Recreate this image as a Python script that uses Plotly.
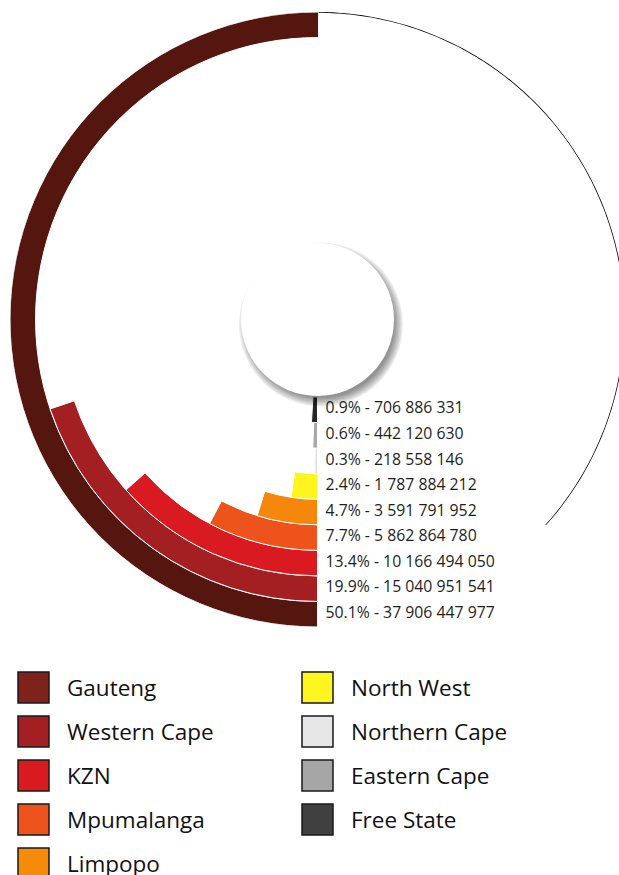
import math
import numpy as np
import plotly.graph_objects as go

# Provincial totals, outermost ring first
provinces = ["Gauteng", "Western Cape", "KZN", "Mpumalanga", "Limpopo",
             "North West", "Northern Cape", "Eastern Cape", "Free State"]
values = [37906447977, 15040951541, 10166494050, 5862864780, 3591791952,
          1787884212, 218558146, 442120630, 706886331]
arc_colors = ["#561610", "#a31f22", "#d91a21", "#ef531c", "#f5870a",
              "#fff51e", "#e0e0e0", "#a8a8a8", "#262626"]
legend_colors = ["#7f221c", "#a31f22", "#d91a21", "#ef531c", "#f68b0a",
                 "#fff61f", "#e6e6e6", "#a6a6a6", "#404040"]

# Page geometry (px)
W, H = 626, 875
CX, CY = 317.5, 319.5
R_OUT = 307.5
R_IN = 77.5
DISC_R = 76.5
OUTLINE_END_DEG = 312
FONT = "Open Sans"

total = sum(values)
shares = [v / total * 100 for v in values]
n = len(values)
rings = [n - 1 - i for i in range(n)]
ring_px = (R_OUT - R_IN) / n


def fmt_label(share, value):
    return f"{share:.1f}% - " + f"{value:,}".replace(",", " ")


fig = go.Figure()

# Radial bars: each ring starts at the bottom and sweeps clockwise
for i in range(n):
    span = shares[i] * 3.6
    fig.add_trace(go.Barpolar(
        r=[1], base=[rings[i]], theta=[span / 2], width=[span],
        marker=dict(color=arc_colors[i], line=dict(color="white", width=1)),
        name=provinces[i], showlegend=False, hoverinfo="name"))

# Thin outline continuing round from the end of the outer ring
outline_theta = np.linspace(shares[0] * 3.6, OUTLINE_END_DEG, 200)
fig.add_trace(go.Scatterpolar(
    r=[n] * len(outline_theta), theta=outline_theta, mode="lines",
    line=dict(color="#000000", width=1.6), cliponaxis=False,
    showlegend=False, hoverinfo="skip"))

# Value labels beside the start of every ring
lab_r, lab_theta, lab_text = [], [], []
for i in range(n):
    rpx = R_IN + (rings[i] + 0.5) * ring_px
    lab_r.append(rings[i] + 0.5)
    lab_theta.append(-math.degrees(math.atan(8.0 / rpx)))
    lab_text.append(fmt_label(shares[i], values[i]))
fig.add_trace(go.Scatterpolar(
    r=lab_r, theta=lab_theta, text=lab_text, mode="text",
    textposition="middle right", cliponaxis=False,
    textfont=dict(family=FONT, size=15.8, color="#1e1e1e"),
    showlegend=False, hoverinfo="skip"))


def px_x(x):
    return x / W


def px_y(y):
    return 1 - y / H


shapes = []
# Drop shadow under the centre disc
for k in range(7):
    r = DISC_R - 3 + k * 1.4
    sx, sy = CX + 3.5, CY + 5
    shapes.append(dict(type="circle", xref="paper", yref="paper",
                       x0=px_x(sx - r), x1=px_x(sx + r),
                       y0=px_y(sy + r), y1=px_y(sy - r),
                       fillcolor="rgba(0,0,0,0.075)", line=dict(width=0),
                       layer="above"))
shapes.append(dict(type="circle", xref="paper", yref="paper",
                   x0=px_x(CX - DISC_R), x1=px_x(CX + DISC_R),
                   y0=px_y(CY + DISC_R), y1=px_y(CY - DISC_R),
                   fillcolor="white", line=dict(width=0), layer="above"))

# Legend: two columns of swatches with names
annotations = []
col_x = [18, 302]
text_x = [65, 349]
row_top, row_step, sw = 672, 44, 31
per_col = 5
for i, name in enumerate(provinces):
    col, row = divmod(i, per_col)
    top = row_top + row * row_step
    shapes.append(dict(type="rect", xref="paper", yref="paper",
                       x0=px_x(col_x[col]), x1=px_x(col_x[col] + sw),
                       y0=px_y(top + sw), y1=px_y(top),
                       fillcolor=legend_colors[i],
                       line=dict(color="#1a1a1a", width=1.5), layer="above"))
    annotations.append(dict(text=name, xref="paper", yref="paper",
                            x=px_x(text_x[col]), y=px_y(top + sw / 2 - 0.5),
                            xanchor="left", yanchor="middle", showarrow=False,
                            font=dict(family=FONT, size=22.5, color="#111111")))

fig.update_layout(
    width=W, height=H,
    margin=dict(l=0, r=0, t=0, b=0),
    paper_bgcolor="white", plot_bgcolor="white",
    polar=dict(
        domain=dict(x=[(CX - R_OUT) / W, (CX + R_OUT) / W],
                    y=[1 - (CY + R_OUT) / H, 1 - (CY - R_OUT) / H]),
        hole=R_IN / R_OUT,
        bgcolor="rgba(0,0,0,0)",
        radialaxis=dict(range=[0, n], visible=False),
        angularaxis=dict(visible=False, rotation=270, direction="clockwise",
                         thetaunit="degrees"),
    ),
    shapes=shapes,
    annotations=annotations,
)

fig.write_html(
    "out.html",
    post_script="document.documentElement.style.overflow='hidden';"
                "document.body.style.overflow='hidden';")
